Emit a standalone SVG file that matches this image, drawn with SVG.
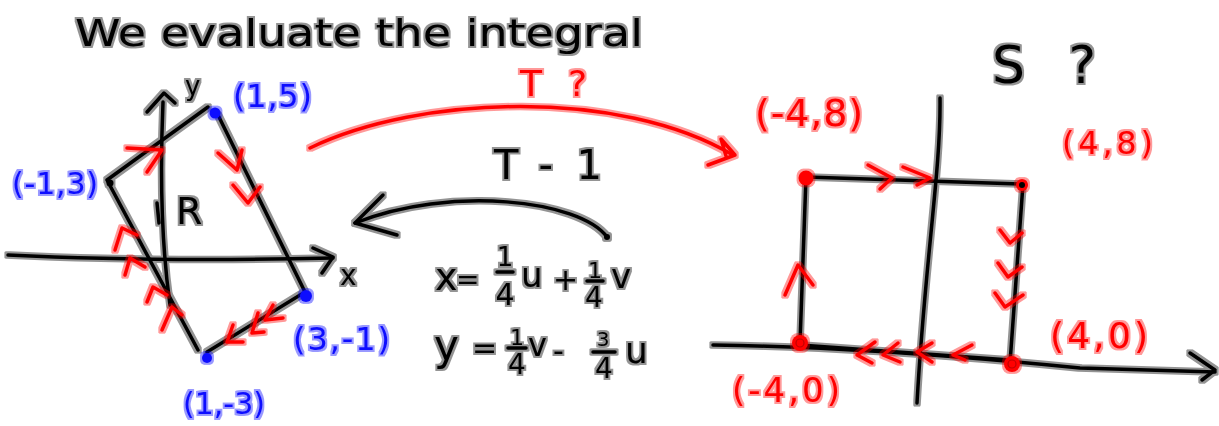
<svg xmlns="http://www.w3.org/2000/svg" width="1219" height="426" viewBox="0 0 1219 426">
<defs>
<filter id="hk" filterUnits="userSpaceOnUse" x="0" y="0" width="1219" height="426">
<feMorphology in="SourceAlpha" operator="dilate" radius="2.2" result="d"/>
<feFlood flood-color="#000" flood-opacity="0.42"/>
<feComposite in2="d" operator="in" result="h"/>
<feMerge><feMergeNode in="h"/><feMergeNode in="SourceGraphic"/></feMerge>
</filter>
<filter id="hr" filterUnits="userSpaceOnUse" x="0" y="0" width="1219" height="426">
<feMorphology in="SourceAlpha" operator="dilate" radius="2.2" result="d"/>
<feFlood flood-color="#ff0000" flood-opacity="0.4"/>
<feComposite in2="d" operator="in" result="h"/>
<feMerge><feMergeNode in="h"/><feMergeNode in="SourceGraphic"/></feMerge>
</filter>
<filter id="hb" filterUnits="userSpaceOnUse" x="0" y="0" width="1219" height="426">
<feMorphology in="SourceAlpha" operator="dilate" radius="2.2" result="d"/>
<feFlood flood-color="#0000ff" flood-opacity="0.4"/>
<feComposite in2="d" operator="in" result="h"/>
<feMerge><feMergeNode in="h"/><feMergeNode in="SourceGraphic"/></feMerge>
</filter>
<style>
.k{fill:none;stroke:#000;stroke-width:3.5;stroke-linecap:round;stroke-linejoin:round}
.r{fill:none;stroke:#ff0000;stroke-width:3.5;stroke-linecap:round;stroke-linejoin:round}
.tk{font-family:"DejaVu Sans","Liberation Sans",sans-serif;fill:#000}
.tr{font-family:"DejaVu Sans","Liberation Sans",sans-serif;fill:#ff0000}
.tb{font-family:"DejaVu Sans","Liberation Sans",sans-serif;fill:#1010ff}
.m{text-anchor:middle}
</style>
</defs>
<rect width="1219" height="426" fill="#fff"/>

<g id="title" filter="url(#hk)">
<text class="tk" x="75" y="46" font-size="38" textLength="568" lengthAdjust="spacingAndGlyphs">We evaluate the integral</text>
</g>

<g id="region-R">
<g filter="url(#hk)">
<path class="k" d="M8,255 Q150,262 333,258"/>
<path class="k" d="M313,248 L333,257 L322,273"/>
<path class="k" d="M163,102 Q158,220 170,305"/>
<path class="k" d="M147,112 L164,93 L175,103"/>
<path class="k" d="M157,203 L159,223"/>
<path class="k" d="M208,107 L107,180 L198,350"/>
<path class="k" d="M218,115 L305,292 L207,352"/>
<circle cx="110" cy="183" r="3.5" fill="#000"/>
<text class="tk" x="340" y="285" font-size="28">x</text>
<text class="tk" x="185" y="95" font-size="26">y</text>
<text class="tk" x="176" y="224" font-size="38">R</text>
</g>
<g filter="url(#hr)">
<path class="r" d="M127,148 L162,150 L147,172"/>
<path class="r" d="M218,153 L237,170 L242,150"/>
<path class="r" d="M233,185 L248,203 L260,187"/>
<path class="r" d="M115,250 L122,228 L137,235"/>
<path class="r" d="M125,275 L130,258 L145,267"/>
<path class="r" d="M147,302 L153,287 L167,295"/>
<path class="r" d="M162,330 L172,307 L182,315"/>
<path class="r" d="M233,325 L227,342 L243,342"/>
<path class="r" d="M258,313 L252,333 L264,332"/>
<path class="r" d="M273,305 L265,320 L283,318"/>
</g>
<g filter="url(#hb)">
<circle cx="215" cy="113" r="5.5" fill="#1010ff"/>
<circle cx="306" cy="296" r="6" fill="#1010ff"/>
<circle cx="207" cy="358" r="5" fill="#1010ff"/>
<text class="tb" x="233" y="107" font-size="32" textLength="79" lengthAdjust="spacing">(1,5)</text>
<text class="tb" x="12" y="194" font-size="30" textLength="86" lengthAdjust="spacing">(-1,3)</text>
<text class="tb" x="293" y="350" font-size="32" textLength="97" lengthAdjust="spacing">(3,-1)</text>
<text class="tb" x="183" y="414" font-size="30" textLength="82" lengthAdjust="spacing">(1,-3)</text>
</g>
</g>

<g id="connectors">
<g id="arrow-T" filter="url(#hr)">
<path class="r" d="M310,148 C420,95 620,88 733,155"/>
<path class="r" d="M708,165 L735,155 L721,139 L726,156"/>
<text class="tr" x="520" y="96" font-size="36" textLength="67" lengthAdjust="spacing">T?</text>
</g>
<g id="arrow-Tinv" filter="url(#hk)">
<path class="k" d="M607,237 C580,200 450,185 355,223"/>
<path class="k" d="M383,195 L355,223 L397,235"/>
<circle cx="607" cy="237" r="3" fill="#000"/>
<text class="tk" x="494" y="179" font-size="40" textLength="108" lengthAdjust="spacing">T-1</text>
</g>
</g>

<g id="equations" filter="url(#hk)">
<text class="tk" x="435" y="290" font-size="38">x</text>
<text class="tk" x="456" y="289" font-size="28">=</text>
<text class="tk m" x="505" y="266" font-size="26">1</text>
<path class="k" d="M497,272 L513,272"/>
<text class="tk m" x="505" y="305" font-size="30">4</text>
<text class="tk" x="521" y="287" font-size="34">u</text>
<text class="tk" x="553" y="290" font-size="30">+</text>
<text class="tk m" x="595" y="278" font-size="22">1</text>
<path class="k" d="M587,281 L603,281"/>
<text class="tk m" x="594" y="307" font-size="28">4</text>
<text class="tk" x="611" y="288" font-size="34">v</text>

<text class="tk" x="434" y="360" font-size="42">y</text>
<text class="tk" x="472" y="358" font-size="30">=</text>
<text class="tk m" x="517" y="345" font-size="22">1</text>
<path class="k" d="M508,348 L526,348"/>
<text class="tk m" x="517" y="374" font-size="28">4</text>
<text class="tk" x="528" y="356" font-size="32">v</text>
<text class="tk" x="553" y="361" font-size="30">-</text>
<text class="tk m" x="603" y="346" font-size="20">3</text>
<path class="k" d="M593,352 L615,352"/>
<text class="tk m" x="604" y="378" font-size="28">4</text>
<text class="tk" x="625" y="363" font-size="36">u</text>
</g>

<g id="region-S">
<g filter="url(#hk)">
<path class="k" d="M713,345 C850,347 1000,360 1080,368 L1215,372"/>
<path class="k" d="M1190,353 L1215,370 L1202,380"/>
<path class="k" d="M940,98 C941,170 925,260 917,403"/>
<path class="k" d="M800,343 L806,177 L1023,184 L1010,363"/>
<path class="k" d="M800,345 L1010,360"/>
<text class="tk" x="992" y="83" font-size="52" textLength="104" lengthAdjust="spacing">S?</text>
</g>
<g filter="url(#hr)">
<circle cx="806" cy="178" r="7.5" fill="#ff0000"/>
<circle cx="1022" cy="185" r="6" fill="#ff0000"/>
<circle cx="800" cy="343" r="8" fill="#ff0000"/>
<circle cx="1012" cy="364" r="8" fill="#ff0000"/>
<path class="r" d="M868,165 L892,178 L880,189"/>
<path class="r" d="M903,167 L930,178 L917,185"/>
<path class="r" d="M1000,230 L1010,243 L1022,233"/>
<path class="r" d="M998,263 L1008,277 L1022,267"/>
<path class="r" d="M995,293 L1005,307 L1023,295"/>
<path class="r" d="M785,295 L798,265 L813,285"/>
<path class="r" d="M875,342 L857,355 L872,363"/>
<path class="r" d="M898,343 L883,355 L900,362"/>
<path class="r" d="M932,343 L917,352 L932,362"/>
<path class="r" d="M972,345 L953,355 L965,360"/>
<text class="tr" x="755" y="126" font-size="38" textLength="108" lengthAdjust="spacing">(-4,8)</text>
<text class="tr" x="1062" y="154" font-size="32" textLength="91" lengthAdjust="spacing">(4,8)</text>
<text class="tr" x="1050" y="348" font-size="36" textLength="98" lengthAdjust="spacing">(4,0)</text>
<text class="tr" x="732" y="402" font-size="34" textLength="108" lengthAdjust="spacing">(-4,0)</text>
</g>
<circle cx="1022" cy="185" r="3" fill="#000"/>
<circle cx="800" cy="343" r="4" fill="none" stroke="#c00000" stroke-width="1.2"/>
<circle cx="1012" cy="364" r="4" fill="none" stroke="#c00000" stroke-width="1.2"/>
</g>
</svg>
